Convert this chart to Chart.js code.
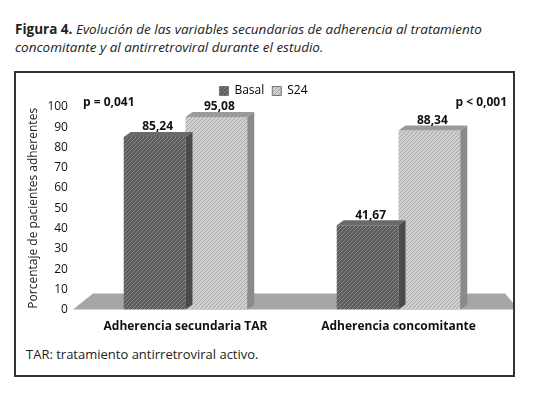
<!DOCTYPE html>
<html><head><meta charset="utf-8">
<script src="https://cdn.jsdelivr.net/npm/chart.js@4"></script>
<style>
body{margin:0;background:#fff;font-family:"Open Sans",sans-serif;width:548px;height:400px;position:relative;overflow:hidden}
#title{position:absolute;left:15px;top:20px;width:500px;font-size:13.5px;line-height:18px;color:#222}
#box{position:absolute;left:14px;top:71px;width:497px;height:302px;border:2px solid #333}
#wrap{position:absolute;left:0;top:0;width:497px;height:263px}
#note{position:absolute;left:10px;top:272px;font-size:13px;color:#222}
</style></head><body>
<div id="title"><b>Figura 4.</b> <i>Evolución de las variables secundarias de adherencia al tratamiento concomitante y al antirretroviral durante el estudio.</i></div>
<div id="box"><div id="wrap"><canvas id="c"></canvas></div>
<div id="note">TAR: tratamiento antirretroviral activo.</div></div>
<script>
const categories = ['Adherencia secundaria TAR', 'Adherencia concomitante'];
const basal = [85.24, 41.67];
const s24 = [95.08, 88.34];
const pValues = ['p = 0,041', 'p < 0,001'];
const yTicks = [0,10,20,30,40,50,60,70,80,90,100];

const makePattern = (bg, line) => {
  const p = document.createElement('canvas'); p.width = 4; p.height = 4;
  const g = p.getContext('2d');
  g.fillStyle = bg; g.fillRect(0,0,4,4);
  g.strokeStyle = line; g.lineWidth = 1;
  g.beginPath(); g.moveTo(0,4); g.lineTo(4,0); g.stroke();
  return g.createPattern(p, 'repeat');
};
const ctx = document.getElementById('c');
const darkPat = makePattern('#5c5c5c', '#8a8a8a');
const lightPat = makePattern('#cfcfcf', '#a8a8a8');

const DX = 7, DY = 5;
const floor = {
  id: 'floor',
  beforeDatasetsDraw(chart) {
    const {ctx, chartArea: a, scales: {y}} = chart;
    const y0 = y.getPixelForValue(0), y1 = y.getPixelForValue(8);
    ctx.save(); ctx.fillStyle = '#a6a6a6';
    ctx.beginPath();
    ctx.moveTo(a.left - 6, y0); ctx.lineTo(a.right + 14, y0);
    ctx.lineTo(a.right, y1); ctx.lineTo(a.left + 14, y1);
    ctx.closePath(); ctx.fill(); ctx.restore();
  }
};
const bars3d = {
  id: 'bars3d',
  afterDatasetsDraw(chart) {
    const {ctx} = chart;
    chart.data.datasets.forEach((ds, i) => {
      chart.getDatasetMeta(i).data.forEach((b, j) => {
        const l = b.x - b.width/2, r = b.x + b.width/2, t = b.y, bt = b.base;
        ctx.save();
        ctx.fillStyle = i === 0 ? '#6a6a6a' : '#9a9a9a';
        ctx.beginPath(); ctx.moveTo(l, t); ctx.lineTo(l+DX, t-DY); ctx.lineTo(r+DX, t-DY); ctx.lineTo(r, t); ctx.fill();
        ctx.fillStyle = i === 0 ? '#4a4a4a' : '#8a8a8a';
        ctx.beginPath(); ctx.moveTo(r, t); ctx.lineTo(r+DX, t-DY); ctx.lineTo(r+DX, bt-DY); ctx.lineTo(r, bt); ctx.fill();
        ctx.fillStyle = '#111'; ctx.font = 'bold 12px "Open Sans"'; ctx.textAlign = 'center';
        ctx.fillText(ds.data[j].toFixed(2).replace('.', ','), b.x + 3, t - 10);
        ctx.restore();
      });
    });
    const x = chart.scales.x;
    ctx.save(); ctx.fillStyle = '#111'; ctx.font = 'bold 12px "Open Sans"';
    ctx.textAlign = 'left'; ctx.fillText(pValues[0], x.left + 4, 30);
    ctx.textAlign = 'right'; ctx.fillText(pValues[1], x.right + 2, 30);
    ctx.restore();
  }
};

new Chart(ctx, {
  type: 'bar',
  data: {
    labels: categories,
    datasets: [
      {label: 'Basal', data: basal, backgroundColor: darkPat},
      {label: 'S24', data: s24, backgroundColor: lightPat}
    ]
  },
  options: {
    responsive: true, maintainAspectRatio: false, animation: false,
    layout: {padding: {top: 4, right: 8, bottom: 0, left: 6}},
    datasets: {bar: {categoryPercentage: 0.58, barPercentage: 1}},
    plugins: {
      legend: {
        position: 'top',
        afterFit: l => { l.height += 14; },
        labels: {boxWidth: 9, boxHeight: 9, padding: 8, color: '#222', font: {size: 12, family: '"Open Sans"'},
          generateLabels: c => c.data.datasets.map((d, i) => ({text: d.label, fillStyle: i ? lightPat : darkPat, strokeStyle: '#777', lineWidth: 1, datasetIndex: i}))}
      },
      tooltip: {enabled: false}
    },
    scales: {
      x: {grid: {display: false}, border: {display: false},
        ticks: {color: '#111', font: {size: 12, weight: 'bold', family: '"Open Sans"'}, padding: 2}},
      y: {min: 0, max: 100, afterBuildTicks: s => { s.ticks = yTicks.map(v => ({value: v})); },
        grid: {display: false}, border: {display: false},
        ticks: {color: '#111', font: {size: 12, family: '"Open Sans"'}, padding: 3},
        title: {display: true, text: 'Porcentaje de pacientes adherentes', color: '#222', font: {size: 12, family: '"Open Sans"'}}}
    }
  },
  plugins: [floor, bars3d]
});
</script></body></html>
